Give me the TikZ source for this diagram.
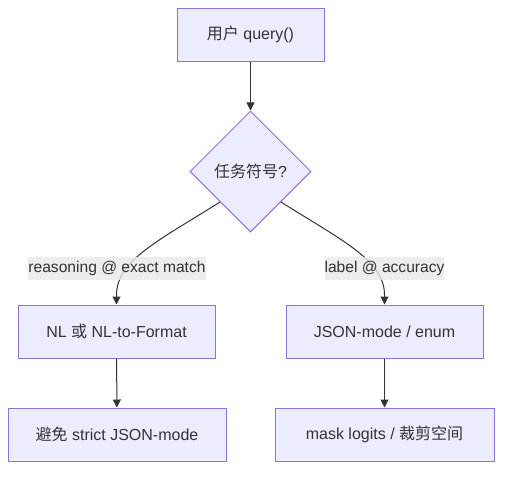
\documentclass[tikz,border=0pt]{standalone}
\usepackage{fontspec}
\setmainfont{Liberation Sans}
\newfontfamily\cjk{Noto Sans CJK SC}
\usetikzlibrary{shapes.geometric,arrows.meta}
\definecolor{nodefill}{HTML}{ECECFF}
\definecolor{nodeline}{HTML}{9370DB}
\definecolor{edgeline}{HTML}{333333}
\definecolor{labelbg}{HTML}{E8E8E8}
\begin{document}
\begin{tikzpicture}[x=0.75pt,y=-0.75pt,
  box/.style={draw=nodeline,fill=nodefill,line width=0.75pt,minimum height=39.75pt,inner sep=0pt,text=edgeline,font=\fontsize{12pt}{14pt}\selectfont},
  dia/.style={diamond,draw=nodeline,fill=nodefill,line width=0.75pt,minimum width=90.75pt,minimum height=90.75pt,inner sep=0pt,aspect=1,text=edgeline,font=\fontsize{12pt}{14pt}\selectfont},
  elabel/.style={fill=labelbg,fill opacity=0.8,text opacity=1,inner xsep=0pt,inner ysep=0pt,minimum height=17.25pt,text=edgeline,font=\fontsize{11.7pt}{14pt}\selectfont},
  edge/.style={draw=edgeline,line width=0.75pt,-{Triangle[length=6pt,width=6pt]}}]
\useasboundingbox (0,0) rectangle (510,476);
\node[box,minimum width=110.25pt] (q) at (250.5,34.5) {{\cjk 用户} query()};
\node[dia] (d) at (250.5,171.5) {{\cjk 任务符号}?};
\node[box,minimum width=147.75pt] (nl) at (116.5,331.5) {NL {\cjk 或} NL-to-Format};
\node[box,minimum width=147.75pt] (js) at (384.5,331.5) {JSON-mode / enum};
\node[box,minimum width=163.5pt] (av) at (117,434.5) {{\cjk 避免} strict JSON-mode};
\node[box,minimum width=164.25pt] (mk) at (384.5,434.5) {mask logits / {\cjk 裁剪空间}};
\draw[edge] (q) -- (d);
\draw[edge] (d.south west) .. controls (160,240) and (116.5,260) .. (116.5,295) -- (nl.north);
\draw[edge] (d.south east) .. controls (341,240) and (384.5,260) .. (384.5,295) -- (js.north);
\draw[edge] (nl) -- (av);
\draw[edge] (js) -- (mk);
\node[elabel] (l1) at (117,268.5) {reasoning @ exact match};
\node[elabel] (l2) at (384.5,268.5) {label @ accuracy};
\end{tikzpicture}
\end{document}
